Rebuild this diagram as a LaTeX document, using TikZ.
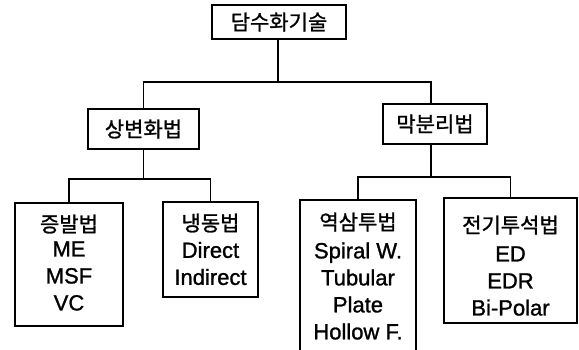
\documentclass[tikz,border=0pt]{standalone}
\usepackage{fontspec}
\setmainfont[FakeBold=1.2]{Liberation Sans}
\newfontfamily\kr[FakeBold=1.2]{Noto Sans CJK KR}
\begin{document}
\begin{tikzpicture}[x=1pt,y=-1pt,
  box/.style={draw=black,line width=1.3pt,rectangle,inner sep=0pt},
  txt/.style={align=center,inner sep=0pt,font=\fontsize{22}{27}\selectfont},
  ktxt/.style={align=center,inner sep=0pt,font=\kr\fontsize{21}{27}\selectfont},
  link/.style={draw=black,line width=1.3pt}]
\useasboundingbox (0,0) rectangle (579,350);
\clip (0,0) rectangle (579,350);
% boxes
\node[box,minimum width=134pt,minimum height=34pt] (top) at (279,22) {};
\node[ktxt] (topt) at (279,22) {담수화기술};
\node[box,minimum width=111pt,minimum height=40pt] (L) at (143.5,129) {};
\node[ktxt] (Lt) at (143.5,129) {상변화법};
\node[box,minimum width=104pt,minimum height=40pt] (R) at (435,124) {};
\node[ktxt] (Rt) at (435,124) {막분리법};
\node[box,minimum width=108pt,minimum height=123pt] (LL) at (69,264.5) {};
\node[ktxt,anchor=center] (LLk) at (69,224) {증발법};
\node[txt] (LLt) at (69,276) {ME\\MSF\\VC};
\node[box,minimum width=95pt,minimum height=95pt] (LR) at (210.5,249.5) {};
\node[ktxt] (LRk) at (210.5,223) {냉동법};
\node[txt] (LRt) at (210.5,263.5) {Direct\\Indirect};
\node[box,minimum width=116pt,minimum height=180pt] (RL) at (358,290) {};
\node[ktxt] (RLk) at (358,222) {역삼투법};
\node[txt] (RLt) at (358,291) {Spiral W.\\Tubular\\Plate\\Hollow F.};
\node[box,minimum width=133pt,minimum height=125pt] (RR) at (510.5,260.5) {};
\node[ktxt] (RRk) at (510.5,225) {전기투석법};
\node[txt] (RRt) at (510.5,281) {ED\\EDR\\Bi-Polar};
% junctions
\coordinate (j0) at (278,82);
\coordinate (j1) at (143.5,179);
\coordinate (j2) at (431,177);
% connectors
\draw[link] (top.south -| j0) -- (j0);
\draw[link] (L.north) |- (j0) -| (j2 |- R.north);
\draw[link] (L.south) -- (j1);
\draw[link] (LL.north) |- (j1) -| (LR.north);
\draw[link] (j2 |- R.south) -- (j2);
\draw[link] (RL.north) |- (j2) -| (RR.north);
\end{tikzpicture}
\end{document}
